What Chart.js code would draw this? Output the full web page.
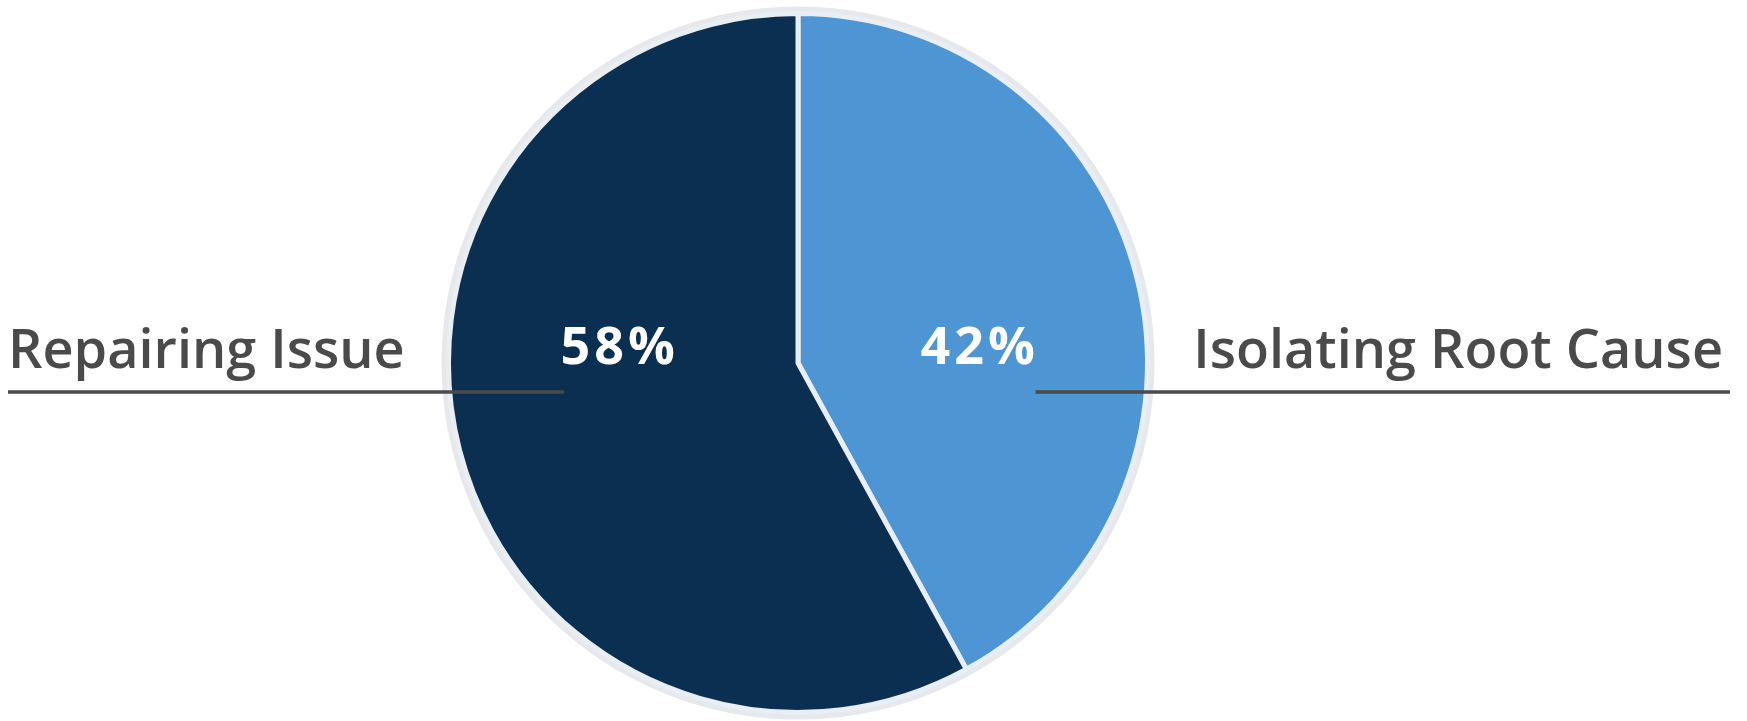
<!DOCTYPE html>
<html>
<head>
<meta charset="utf-8">
<script src="https://cdn.jsdelivr.net/npm/chart.js@4"></script>
<style>
  html, body { margin: 0; padding: 0; background: #ffffff; font-family: "Open Sans", "Noto Sans", sans-serif; }
  #wrap { width: 1747px; height: 721px; position: relative; }
  .warm { position: absolute; left: -9999px; top: 0; }
</style>
</head>
<body>
<div class="warm" style="font-weight:600">Repairing Issue</div>
<div class="warm" style="font-weight:700">58%</div>
<div id="wrap"><canvas id="myChart"></canvas></div>
<script>
  var categories = ['Isolating Root Cause', 'Repairing Issue'];
  var shares = [42, 58];
  var sliceColors = ['#4e95d3', '#0b2f50'];

  var FAMILY = '"Open Sans", "Noto Sans", "Liberation Sans", sans-serif';

  // grey rim round the pie, drawn before the slices
  var rimPlugin = {
    id: 'rim',
    beforeDatasetsDraw: function (chart) {
      var arc = chart.getDatasetMeta(0).data[0];
      if (!arc) return;
      var ctx = chart.ctx;
      ctx.save();
      ctx.beginPath();
      ctx.arc(arc.x, arc.y, arc.outerRadius + 3, 0, Math.PI * 2);
      ctx.lineWidth = 8;
      ctx.strokeStyle = '#e6e8eb';
      ctx.stroke();
      ctx.restore();
    }
  };

  // percent in each slice, name outside with a rule under it
  var labelPlugin = {
    id: 'sideLabels',
    afterDatasetsDraw: function (chart) {
      var ctx = chart.ctx;
      var meta = chart.getDatasetMeta(0);
      var total = shares.reduce(function (a, b) { return a + b; }, 0);
      var w = chart.width;
      meta.data.forEach(function (arc, i) {
        var mid = (arc.startAngle + arc.endAngle) / 2;
        var left = Math.cos(mid) < 0;
        var R = arc.outerRadius;
        var cx = arc.x, cy = arc.y;
        var pct = Math.round(shares[i] / total * 100) + '%';

        ctx.save();
        ctx.fillStyle = '#ffffff';
        ctx.font = 'bold 52px ' + FAMILY;
        ctx.letterSpacing = '4px';
        ctx.textAlign = 'center';
        ctx.textBaseline = 'alphabetic';
        ctx.fillText(pct, cx + (left ? -0.51 : 0.52) * R, cy + 1);

        ctx.fillStyle = '#4a4a4a';
        ctx.font = '600 54px ' + FAMILY;
        ctx.letterSpacing = '0px';
        ctx.textAlign = left ? 'left' : 'right';
        ctx.fillText(categories[i], left ? 8 : w - 24, cy + 5);

        ctx.strokeStyle = '#4a4a4a';
        ctx.lineWidth = 3.5;
        ctx.beginPath();
        if (left) {
          ctx.moveTo(8, cy + 29);
          ctx.lineTo(cx - 0.67 * R, cy + 29);
        } else {
          ctx.moveTo(cx + 0.68 * R, cy + 29);
          ctx.lineTo(w - 17, cy + 29);
        }
        ctx.stroke();
        ctx.restore();
      });
    }
  };

  var data = {
    labels: categories,
    datasets: [
      {
        data: shares,
        backgroundColor: sliceColors,
        borderColor: '#e9eef4',
        borderWidth: 5
      }
    ]
  };

  var options = {
    responsive: true,
    maintainAspectRatio: false,
    animation: false,
    layout: {
      padding: { left: 446, right: 597, top: 11, bottom: 6 }
    },
    plugins: {
      legend: { display: false },
      tooltip: { enabled: false }
    }
  };

  function draw() {
    var ctx = document.getElementById('myChart').getContext('2d');
    new Chart(ctx, {
      type: 'pie',
      data: data,
      options: options,
      plugins: [rimPlugin, labelPlugin]
    });
  }

  Promise.all([
    document.fonts.load('600 54px "Open Sans"'),
    document.fonts.load('bold 52px "Open Sans"')
  ]).then(draw, draw);
</script>
</body>
</html>
